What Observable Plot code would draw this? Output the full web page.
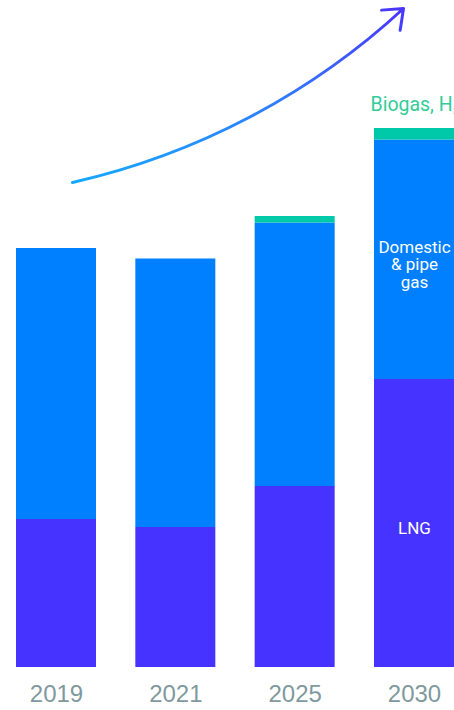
<!DOCTYPE html>
<html><head><meta charset="utf-8">
<script src="https://cdn.jsdelivr.net/npm/d3@7"></script>
<script src="https://cdn.jsdelivr.net/npm/@observablehq/plot@0.6"></script>
<style>html,body{margin:0;padding:0;background:#fff;} #chart svg{display:block;}</style>
</head><body><div id="chart"></div>
<script>
// Categories and series values
const years = ["2019", "2021", "2025", "2030"];
const lng = [29.6, 28.0, 36.2, 57.6];
const domestic = [54.2, 53.7, 52.7, 47.9];
const biogas = [0, 0, 1.3, 2.3];
const seriesNames = ["LNG", "Domestic & pipe gas", "Biogas, H₂"];
const seriesColors = ["#4733ff", "#0080ff", "#00c9a9"];
const segmentLabels = ["LNG", "Domestic\n& pipe\ngas"];
const topLabel = "Biogas, H₂";
// decorative growth arrow, in data units (x = year index, y = value)
const trendArrow = [{x1: 0.134, y1: 97, x2: 2.908, y2: 131.8}];

const rows = [];
years.forEach((year, i) => {
  let base = 0;
  [lng[i], domestic[i], biogas[i]].forEach((v, k) => {
    if (v > 0) rows.push({i, year, series: seriesNames[k], k, y1: base, y2: base + v});
    base += v;
  });
});
const lastIdx = years.length - 1;
const innerRows = rows.filter(d => d.i === lastIdx && d.k < 2).map(d => ({...d, label: segmentLabels[d.k]}));
const topRows = rows.filter(d => d.i === lastIdx && d.k === 2);
const yearRows = years.map((year, i) => ({i, year, y: 0}));

const plot = Plot.plot({
  width: 454, height: 710,
  marginTop: 0, marginBottom: 43, marginLeft: 0, marginRight: 0,
  x: {domain: [-0.4693, 3.3353], axis: null},
  y: {domain: [0, 133.4], axis: null},
  color: {domain: seriesNames, range: seriesColors},
  marks: [
    Plot.rect(rows, {x1: d => d.i - 0.5, x2: d => d.i + 0.5, y1: "y1", y2: "y2", fill: "series", insetLeft: 19.67, insetRight: 19.67}),
    Plot.text(innerRows, {x: "i", y: d => (d.y1 + d.y2) / 2, text: "label", fill: "white", fontSize: 17, fontFamily: "Roboto", lineHeight: 1.02, dy: 5}),
    Plot.text(topRows, {x: "i", y: "y2", text: () => topLabel, textAnchor: "start", dx: -44, dy: -24, fill: "#33cc99", fontSize: 19.5, fontFamily: "Roboto"}),
    Plot.text(yearRows, {x: "i", y: "y", text: "year", dy: 27, fill: "#7f999e", fontSize: 24, fontFamily: "Liberation Sans, Arial, sans-serif"}),
    Plot.arrow(trendArrow, {x1: "x1", y1: "y1", x2: "x2", y2: "y2", bend: -15, stroke: "#2b7bff", strokeWidth: 3, headLength: 11, headAngle: 77})
  ]
});

// gradient for the growth arrow
const ns = "http://www.w3.org/2000/svg";
const defs = document.createElementNS(ns, "defs");
const grad = document.createElementNS(ns, "linearGradient");
grad.setAttribute("id", "trendGrad");
grad.setAttribute("x1", "0"); grad.setAttribute("y1", "1");
grad.setAttribute("x2", "1"); grad.setAttribute("y2", "0");
[["0%", "#14a9ff"], ["55%", "#2f7cff"], ["100%", "#4a35ff"]].forEach(([o, c]) => {
  const s = document.createElementNS(ns, "stop");
  s.setAttribute("offset", o); s.setAttribute("stop-color", c);
  grad.appendChild(s);
});
defs.appendChild(grad);
plot.insertBefore(defs, plot.firstChild);
const arrowG = plot.querySelector('g[aria-label="arrow"]');
if (arrowG) {
  arrowG.setAttribute("stroke", "url(#trendGrad)");
  arrowG.querySelectorAll("path").forEach(p => p.removeAttribute("stroke"));
}
document.getElementById("chart").appendChild(plot);
</script>
</body></html>
